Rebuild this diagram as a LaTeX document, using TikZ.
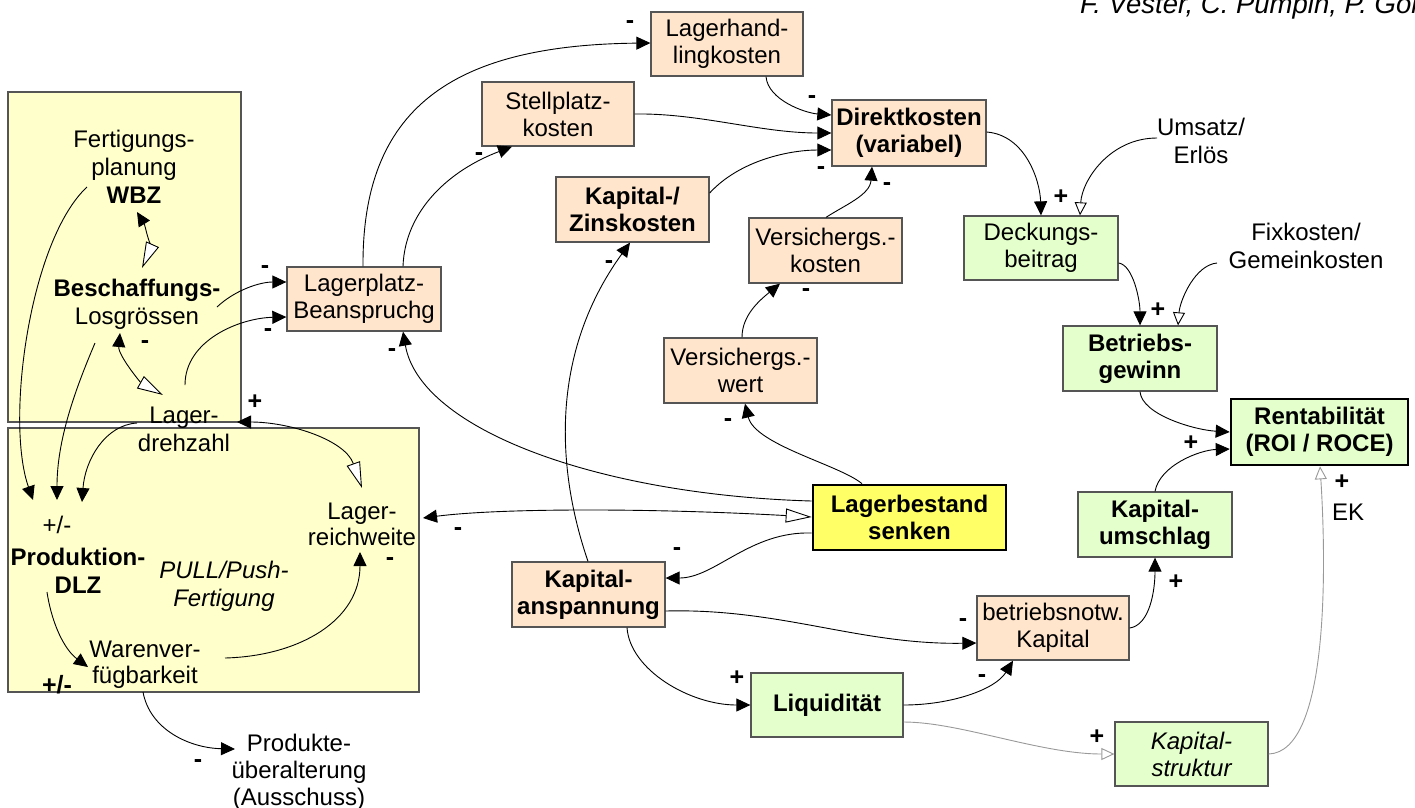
\documentclass[tikz,border=0pt]{standalone}
\usepackage{fontspec}
\setmainfont{Liberation Sans}
\usetikzlibrary{arrows.meta,calc}
\definecolor{peach}{HTML}{FFE5CC}
\definecolor{mint}{HTML}{E5FFCC}
\definecolor{cream}{HTML}{FFFFCC}
\definecolor{lemon}{HTML}{FFFF66}
\definecolor{rim}{HTML}{555555}
\definecolor{faint}{HTML}{999999}

\tikzset{
  box/.style={draw=rim, line width=1.3pt, inner sep=0pt, align=center,
              font=\fontsize{24}{27}\selectfont},
  cost/.style={box, fill=peach},
  gain/.style={box, fill=mint},
  key/.style={box, draw=black, line width=2.6pt},
  lbl/.style={inner sep=0pt, align=center, font=\fontsize{24}{28}\selectfont},
  sgn/.style={inner sep=0pt, font=\bfseries\fontsize{25}{28}\selectfont},
  region/.style={draw=rim, fill=cream, line width=1.3pt},
  tipfull/.tip={Triangle[length=14pt,width=13pt]},
  tipopen/.tip={Triangle[open,length=13pt,width=12pt,fill=white]},
  tiplong/.tip={Triangle[open,length=26pt,width=14pt,fill=white]},
  link/.style={line width=0.9pt, -tipfull},
  weak/.style={line width=0.9pt, -tipopen},
  pale/.style={line width=0.9pt, draw=faint, -tipopen},
  mutual/.style={line width=0.9pt, tipfull-tiplong},
}

\begin{document}
\begin{tikzpicture}[x=1pt,y=-1pt]
\useasboundingbox (0,0) rectangle (1415,807);

% author line, running off the right edge
\node[anchor=base west, inner sep=0pt, font=\itshape\fontsize{27.5}{30}\selectfont]
  (author) at (1080,13) {F. Vester, C. Pümpin, P. Gomez};

% shaded regions on the left
\draw[region] (8,92) rectangle (241,422);
\draw[region] (8,428) rectangle (419,692);

% free labels
\node[lbl] (fp) at (134,167) {Fertigungs-\\planung\\\textbf{WBZ}};
\node[lbl] (bl) at (137,304) {\textbf{Beschaffungs-}\\Losgrössen};
\node[lbl] (ld) at (184,429) {Lager-\\drehzahl};
\node[lbl] (pm) at (57,525) {+/-};
\node[lbl, font=\bfseries\fontsize{24}{28}\selectfont] (pd) at (78,571) {Produktion-\\DLZ};
\node[lbl, font=\itshape\fontsize{24}{28}\selectfont] (pp) at (224,586) {PULL/Push-\\Fertigung};
\node[lbl, font=\fontsize{24}{26}\selectfont] (lr) at (362,524) {Lager-\\reichweite};
\node[lbl, font=\fontsize{24}{26}\selectfont] (wv) at (145,665) {Warenver-\\fügbarkeit};
\node[sgn] (pmb) at (57,685) {+/-};
\node[lbl, font=\fontsize{24}{27}\selectfont] (pu) at (299,772) {Produkte-\\überalterung\\(Ausschuss)};
\node[lbl] (ue) at (1201,141) {Umsatz/\\Erlös};
\node[lbl] (fg) at (1306,246) {Fixkosten/\\Gemeinkosten};
\node[lbl] (ek) at (1348,512) {EK};

% cost boxes
\node[cost, minimum width=152pt, minimum height=64pt] (lhk) at (727,44) {Lagerhand-\\lingkosten};
\node[cost, minimum width=152pt, minimum height=64pt] (stell) at (558,114) {Stellplatz-\\kosten};
\node[cost, minimum width=153pt, minimum height=65pt, font=\bfseries\fontsize{24}{27}\selectfont] (kzk) at (632.5,209.5) {Kapital-/\\Zinskosten};
\node[cost, minimum width=153pt, minimum height=65pt] (vk) at (825.5,250.5) {Versichergs.-\\kosten};
\node[cost, minimum width=154pt, minimum height=66pt, font=\bfseries\fontsize{24}{27}\selectfont] (dk) at (909,133) {Direktkosten\\(variabel)};
\node[cost, minimum width=154pt, minimum height=64pt] (lpb) at (364,299) {Lagerplatz-\\Beanspruchg};
\node[cost, minimum width=153pt, minimum height=65pt] (vw) at (740.5,370.5) {Versichergs.-\\wert};
\node[cost, minimum width=153pt, minimum height=65pt, font=\bfseries\fontsize{24}{27}\selectfont] (kan) at (588.5,594.5) {Kapital-\\anspannung};
\node[cost, minimum width=152pt, minimum height=64pt] (bnk) at (1053,628) {betriebsnotw.\\Kapital};

% result boxes
\node[gain, minimum width=154pt, minimum height=64pt] (db) at (1041,248) {Deckungs-\\beitrag};
\node[gain, minimum width=154pt, minimum height=65pt, font=\bfseries\fontsize{24}{27}\selectfont] (bg) at (1140,358.5) {Betriebs-\\gewinn};
\node[gain, key, minimum width=177pt, minimum height=66pt, font=\bfseries\fontsize{24}{27}\selectfont] (rent) at (1319.5,432) {Rentabilität\\(ROI / ROCE)};
\node[gain, minimum width=154pt, minimum height=65pt, font=\bfseries\fontsize{24}{27}\selectfont] (kus) at (1155,524.5) {Kapital-\\umschlag};
\node[gain, minimum width=152pt, minimum height=64pt, font=\bfseries\fontsize{24}{27}\selectfont] (liq) at (827,705) {Liquidität};
\node[gain, minimum width=153pt, minimum height=64pt, font=\itshape\fontsize{24}{27}\selectfont] (kst) at (1191.5,754) {Kapital-\\struktur};

% the lever
\node[key, fill=lemon, minimum width=193pt, minimum height=65pt, font=\bfseries\fontsize{24}{27}\selectfont] (lbs) at (909.5,517.5) {Lagerbestand\\senken};

% connectors inside the planning region
\draw[link] ($(fp.center)+(-47,20)$) .. controls (30,240) and (5,420) .. ($(pm.center)+(-24,-25)$);
\draw[link] ($(bl.center)+(-42,39)$) .. controls (75,390) and (57,440) .. ($(pm.center)+(0,-25)$);
\draw[link] ($(ld.center)+(-47,-6)$) .. controls (105,425) and (85,460) .. ($(pm.center)+(25,-23)$);
\draw[mutual] ($(fp.center)+(3,45)$) .. controls (145,225) and (150,250) .. ($(bl.center)+(5,-36)$);
\draw[mutual] ($(bl.center)+(-17,29)$) .. controls (118,355) and (140,382) .. ($(ld.center)+(-21,-34)$);
\draw[mutual] ($(ld.center)+(53,-7)$) .. controls (290,422) and (345,440) .. ($(lr.center)+(0,-36)$);
\draw[link] ($(pd.center)+(-31,21)$) .. controls (52,625) and (65,650) .. ($(wv.center)+(-57,2)$);
\draw[link] ($(wv.center)+(80,-7)$) .. controls (300,656) and (360,620) .. ($(lr.center)+(-2,28)$);
\draw[link] ($(wv.center)+(-2,27)$) .. controls (150,730) and (190,748) .. ($(pu.center)+(-64,-23)$);

% storage space and costs
\draw[link] ($(bl.center)+(80,3)$) .. controls (235,290) and (260,282) .. (lpb.west |- 0,282);
\draw[link] ($(ld.center)+(1,-44)$) .. controls (185,340) and (240,318) .. (lpb.west |- 0,317);
\draw[link] (363,0 |- lpb.north) .. controls (362,110) and (450,45) .. (lhk.west |- 0,43);
\draw[link] (403,0 |- lpb.north) .. controls (405,210) and (450,170) .. (512,0 |- stell.south);
\draw[link] (lbs.west |- 0,501) .. controls (600,495) and (420,430) .. (403,0 |- lpb.south);
\draw[link] (766,0 |- lhk.south) .. controls (768,100) and (805,113) .. (dk.west |- 0,115);
\draw[link] (stell.east |- 0,114) .. controls (700,113) and (760,133) .. (dk.west |- 0,133);
\draw[link] (kzk.east |- 0,193) .. controls (740,160) and (790,150) .. (dk.west |- 0,150);
\draw[link] (826,0 |- vk.north) .. controls (845,205) and (870,195) .. (872,0 |- dk.south);
\draw[link] (742,0 |- vw.north) .. controls (742,315) and (760,300) .. (780,0 |- vk.south);
\draw[link] (862,0 |- lbs.north) .. controls (840,465) and (755,445) .. (745,0 |- vw.south);
\draw[link] (588,0 |- kan.north) .. controls (560,480) and (545,360) .. (630,0 |- kzk.south);

% stock level effects
\draw[mutual] ($(lr.center)+(61,-6)$) .. controls (500,508) and (650,508) .. (lbs.west |- 0,517);
\draw[link] (lbs.west |- 0,533) .. controls (750,531) and (715,578) .. (kan.east |- 0,578);
\draw[link] (kan.east |- 0,611) .. controls (780,608) and (860,645) .. (bnk.west |- 0,643);
\draw[link] (627,0 |- kan.south) .. controls (630,670) and (690,705) .. (liq.west);
\draw[link] (liq.east) .. controls (950,705) and (995,690) .. (1013,0 |- bnk.south);
\draw[pale] (liq.east |- 0,722) .. controls (960,722) and (1040,754) .. (kst.west);
\draw[pale] (kst.east) .. controls (1330,752) and (1326,560) .. (1320,0 |- rent.south);

% profitability chain
\draw[link] (bnk.east) .. controls (1150,625) and (1155,590) .. (kus.south);
\draw[link] (kus.north) .. controls (1160,465) and (1200,450) .. (rent.west |- 0,449);
\draw[link] (bg.south) .. controls (1142,415) and (1195,430) .. (rent.west |- 0,432);
\draw[link] (db.east |- 0,263) .. controls (1133,265) and (1140,300) .. (1140,0 |- bg.north);
\draw[weak] ($(fg.center)+(-89,17)$) .. controls (1195,265) and (1180,300) .. (1178,0 |- bg.north);
\draw[link] (dk.east |- 0,132) .. controls (1025,135) and (1040,180) .. (1041,0 |- db.north);
\draw[weak] ($(ue.center)+(-44,-3)$) .. controls (1110,138) and (1082,180) .. (1080,0 |- db.north);

% polarity signs
\foreach \x/\y in {630/25, 812/100, 479/157, 821/171, 887/187, 265/270, 268/333,
                   145/345, 392/353, 609/265, 806/293, 728/423, 458/532, 677/552,
                   390/562, 963/622, 982/678, 198/763}
  \node[sgn] at (\x,\y) {-};
\foreach \x/\y in {1061/197, 1158/310, 255/402, 1191/443, 1342/482, 1176/582,
                   737/678, 1097/737}
  \node[sgn] at (\x,\y) {+};
\end{tikzpicture}
\end{document}
